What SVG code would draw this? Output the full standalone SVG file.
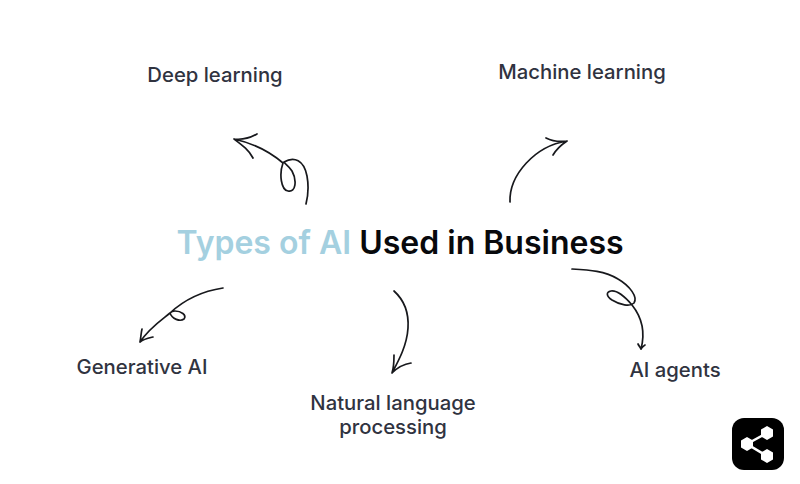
<svg xmlns="http://www.w3.org/2000/svg" width="800" height="484" viewBox="0 0 800 484">
<style>
text{font-family:Inter,"Liberation Sans",sans-serif}
.l{font-size:20.3px;font-weight:500;fill:#30333f;text-anchor:middle}
.t{font-size:32px;font-weight:600;fill:#08090c}
.c{fill:none;stroke:#17181c;stroke-width:1.7;stroke-linecap:round;stroke-linejoin:round}
</style>
<rect width="800" height="484" fill="#fff"/>
<g id="title"><text class="t" x="176.500" y="254"><tspan fill="#a4d0e0">Types of AI</tspan> Used in Business</text></g>
<g id="connectors">
<path class="c" d="M234 139C252 143 270 152 283 163C279 174 281 190 288 191C296 193 297 180 292 171C288 165 284 163 284 162C294 156 304 160 307 176C309 187 308 196 306 204M234 139C242 140 250 138 257 134M234 139C242 145 249 150 253 158"/>
<path class="c" d="M510 202C509 175 535 146 567 141M567 141C560 142 552 141 546 138M567 141C561 145 556 150 553 155"/>
<path class="c" d="M223 288C203 291 184 300 170 313C163 319 150 327 140 342M170 313C172 319 180 322 184 319C187 315 181 311 175 311C172 311 171 312 170 313M140 342C141 337 141 333 142 329M140 342C144 339 149 338 153 337"/>
<path class="c" d="M394 291C404 300 409 312 408 328C407 345 399 360 392 373M392 373C394 367 394 361 394 355M392 373C397 368 404 364 411 363"/>
<path class="c" d="M572 269C590 270 605 271 618 279C630 286 638 297 634 303C630 307 620 305 612 300C606 296 606 292 611 291C618 290 626 298 632 305C640 315 646 330 641 349M641 349C640 347 639 346 638 344M641 349C642 347 644 346 645 345"/>
</g>
<g id="deep-learning"><text class="l" x="215" y="82">Deep learning</text></g>
<g id="machine-learning"><text class="l" x="582" y="79">Machine learning</text></g>
<g id="generative-ai"><text class="l" x="142" y="374">Generative AI</text></g>
<g id="nlp"><text class="l" x="393" y="410">Natural language</text><text class="l" x="393" y="434">processing</text></g>
<g id="ai-agents"><text class="l" x="675" y="377">AI agents</text></g>
<g id="share-icon">
<rect x="732" y="418" width="52" height="52" rx="12" fill="#000"/>
<path d="M767 433L747 444L767 456" fill="none" stroke="#fff" stroke-width="2.500"/>
<path fill="#fff" d="M767 426L773 429.500V436.500L767 440L761 436.500V429.500ZM747 437L753 440.500V447.500L747 451L741 447.500V440.500ZM767 449L773 452.500V459.500L767 463L761 459.500V452.500Z"/>
</g>
</svg>
